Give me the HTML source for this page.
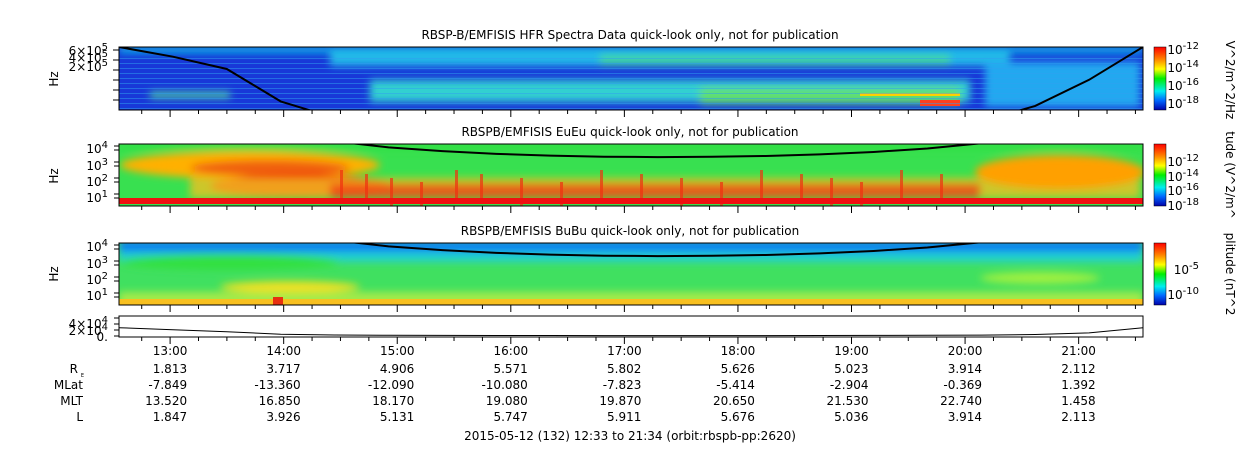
<!DOCTYPE html>
<html><head><meta charset="utf-8"><style>
body{margin:0;background:#fff;width:1250px;height:449px;overflow:hidden}
svg text{font-family:"DejaVu Sans","Liberation Sans",sans-serif;font-size:12px;fill:#000}
</style></head><body>
<svg id="c" width="1250" height="449" xmlns="http://www.w3.org/2000/svg">
<defs>
<linearGradient id="cb" x1="0" y1="0" x2="0" y2="1">
<stop offset="0" stop-color="#f00"/><stop offset="0.2" stop-color="#f80"/><stop offset="0.35" stop-color="#ff0"/><stop offset="0.5" stop-color="#0e0"/><stop offset="0.7" stop-color="#0ee"/><stop offset="0.85" stop-color="#06f"/><stop offset="1" stop-color="#00a"/></linearGradient>
<filter id="bl" x="-20%" y="-50%" width="140%" height="200%"><feGaussianBlur stdDeviation="4"/></filter>
<clipPath id="p1"><rect x="119" y="47" width="1024" height="63"/></clipPath>
<clipPath id="p2"><rect x="119" y="144" width="1024" height="62"/></clipPath>
<clipPath id="p3"><rect x="119" y="243" width="1024" height="62"/></clipPath>
</defs>
<text x="630" y="39" text-anchor="middle">RBSP-B/EMFISIS  HFR Spectra Data quick-look only, not for publication</text>
<text x="630" y="136" text-anchor="middle">RBSPB/EMFISIS  EuEu quick-look only, not for publication</text>
<text x="630" y="235" text-anchor="middle">RBSPB/EMFISIS  BuBu quick-look only, not for publication</text>

<g clip-path="url(#p1)">
<rect x="119" y="47" width="1024" height="63" fill="#1838d8"/>
<g filter="url(#bl)">
<rect x="119" y="47" width="1024" height="6" fill="#10c0e8"/>
<rect x="330" y="50" width="680" height="16" fill="#20b8e8"/>
<rect x="370" y="80" width="600" height="22" fill="#30d0d0"/>
<rect x="600" y="55" width="350" height="10" fill="#40d8a0"/>
<rect x="700" y="88" width="260" height="16" fill="#60e070"/>
<rect x="985" y="62" width="155" height="45" fill="#20a8f0"/>
<rect x="150" y="92" width="80" height="6" fill="#50d8a0"/>
</g>
<rect x="920" y="100" width="40" height="6" fill="#ff4020"/>
<rect x="860" y="93" width="100" height="3" fill="#ffd000"/>
<g id="stripes1"></g>
</g>
<rect x="119" y="47" width="1024" height="63" fill="none" stroke="#000"/>

<g clip-path="url(#p2)">
<rect x="119" y="144" width="1024" height="62" fill="#38e050"/>
<g filter="url(#bl)">
<ellipse cx="250" cy="165" rx="130" ry="14" fill="#ffb000"/>
<ellipse cx="270" cy="168" rx="80" ry="8" fill="#f06010"/>
<ellipse cx="300" cy="186" rx="90" ry="12" fill="#f02000"/>
<rect x="190" y="178" width="950" height="20" fill="#f0c020" opacity="0.8"/>
<rect x="330" y="184" width="650" height="14" fill="#f03010" opacity="0.7"/>
<ellipse cx="1060" cy="172" rx="85" ry="17" fill="#ffa000"/>
<rect x="119" y="144" width="1024" height="6" fill="#30e040"/>
</g>
<g id="streaks2"></g>
<rect x="119" y="198" width="1024" height="6" fill="#f01010"/>
</g>
<rect x="119" y="144" width="1024" height="62" fill="none" stroke="#000"/>

<g clip-path="url(#p3)">
<rect x="119" y="243" width="1024" height="62" fill="#40e060"/>
<g filter="url(#bl)">
<rect x="119" y="240" width="1024" height="14" fill="#1080f0"/>
<rect x="119" y="252" width="1024" height="10" fill="#20d0d0"/>
<ellipse cx="230" cy="262" rx="110" ry="8" fill="#30e040"/>
<ellipse cx="290" cy="287" rx="70" ry="6" fill="#f0e020"/>
<rect x="119" y="292" width="1024" height="14" fill="#d0f040" opacity="0.7"/>
<ellipse cx="1040" cy="278" rx="60" ry="6" fill="#a0f040"/>
</g>
<rect x="119" y="299" width="1024" height="6" fill="#f8c020"/>
<rect x="273" y="297" width="10" height="8" fill="#e83010"/>
</g>
<rect x="119" y="243" width="1024" height="62" fill="none" stroke="#000"/>

<rect x="119" y="316" width="1024" height="21" fill="none" stroke="#000"/>

<g id="dyn"></g>
</svg>
<script>
const NS="http://www.w3.org/2000/svg";
const hours=["13:00","14:00","15:00","16:00","17:00","18:00","19:00","20:00","21:00"];
const rE=["1.813","3.717","4.906","5.571","5.802","5.626","5.023","3.914","2.112"];
const mlat=["-7.849","-13.360","-12.090","-10.080","-7.823","-5.414","-2.904","-0.369","1.392"];
const mlt=["13.520","16.850","18.170","19.080","19.870","20.650","21.530","22.740","1.458"];
const lval=["1.847","3.926","5.131","5.747","5.911","5.676","5.036","3.914","2.113"];
// orbit radius (R_E) sampled each 30 min from 12:33 to 21:33
const radius=[1.3,1.5,1.8,2.9,3.7,4.4,4.9,5.3,5.57,5.74,5.8,5.76,5.63,5.38,5.02,4.55,3.91,3.1,2.11,1.3];
const x0=119,x1=1143,tStart=12+33/60,tEnd=21+34/60;
const X=t=>x0+(t-tStart)/(tEnd-tStart)*(x1-x0);
const svg=document.getElementById('dyn');
function mk(tag,attrs,parent){const e=document.createElementNS(NS,tag);for(const k in attrs)e.setAttribute(k,attrs[k]);(parent||svg).appendChild(e);return e;}
function txt(x,y,s,anchor,name){const t=mk('text',{x:x,y:y,'text-anchor':anchor||'middle'});t.textContent=s;
return t;}
const panels=[[47,110],[144,206],[243,305],[316,337]];
for(let t=12.75;t<=21.6;t+=0.25){
 const x=X(t);const major=Math.abs(t-Math.round(t))<1e-6;
 panels.forEach(p=>{
  const tk=mk('line',{x1:x,x2:x,y1:p[1],y2:p[1]+(major?7:4),stroke:'#000'});
  
  
 });
}
hours.forEach((h,i)=>{const x=X(13+i);
 txt(x,355,h,'middle','time-label');
 txt(x+17,373,rE[i],'end','re-value');
 txt(x+17,389,mlat[i],'end','mlat-value');
 txt(x+17,405,mlt[i],'end','mlt-value');
 txt(x+17,421,lval[i],'end','l-value');
});
txt(78,373,"R","end","re-row-label");
const sub=txt(84,377,"E","end","re-subscript");sub.style.fontSize='5px';
txt(83,389,"MLat","end","mlat-row-label");txt(83,405,"MLT","end","mlt-row-label");txt(83,421,"L","end","l-row-label");
txt(630,440,"2015-05-12 (132) 12:33 to 21:34 (orbit:rbspb-pp:2620)","middle","x-axis-title");
[[58,79],[58,176],[58,274]].forEach(p=>{const t=txt(p[0],p[1],"Hz","middle","y-axis-title");t.setAttribute('transform',`rotate(-90 ${p[0]} ${p[1]})`);});
function ylab(x,y,base,exp,name){const t=txt(x,y,base,'end',name);const s=mk('tspan',{dy:-5},t);s.style.fontSize='10px';s.textContent=exp;}
ylab(108,153,"10","4","panel2-ytick");ylab(108,170,"10","3","panel2-ytick");ylab(108,186,"10","2","panel2-ytick");ylab(108,202,"10","1","panel2-ytick");
ylab(108,251,"10","4","panel3-ytick");ylab(108,268,"10","3","panel3-ytick");ylab(108,284,"10","2","panel3-ytick");ylab(108,300,"10","1","panel3-ytick");
ylab(108,55,"6×10","5","panel1-ytick");ylab(108,62,"4×10","5","panel1-ytick");ylab(108,71,"2×10","5","panel1-ytick");
ylab(108,328,"4×10","4","panel4-ytick");ylab(108,335,"2×10","4","panel4-ytick");txt(108,341,"0.","end","panel4-ytick");
[50,60,70,80,90,100].forEach(y=>{const l=mk('line',{x1:113,x2:119,y1:y,y2:y,stroke:'#000'});});
[146,150,162,166,178,182,194,198,245,249,261,265,277,281,293,297,318,324,330,336].forEach(y=>{const l=mk('line',{x1:114,x2:119,y1:y,y2:y,stroke:'#000'});});
const st=document.getElementById('stripes1');
for(let y=58;y<110;y+=5){const r=mk('rect',{x:119,y:y,width:1024,height:1,fill:'#30a0f0',opacity:0.5},st);}
const s2=document.getElementById('streaks2');
[340,365,390,420,455,480,520,560,600,640,680,720,760,800,830,860,900,940].forEach((x,i)=>{const r=mk('rect',{x:x,y:170+(i%4)*4,width:3,height:30,fill:'#f03010',opacity:0.7},s2);});
const n=radius.length,dt=(tEnd-tStart)/(n-1);
function path(fy,clip,name,w){let d='';radius.forEach((r,i)=>{d+=(i?'L':'M')+X(tStart+i*dt).toFixed(1)+','+fy(r).toFixed(1);});
 const p=mk('path',{d:d,fill:'none',stroke:'#000','stroke-width':w});if(clip)p.setAttribute('clip-path',clip);
 }
path(r=>47+3*Math.log10(r/1.3)*52,'url(#p1)','hfr-fce-line',2);
path(r=>144+3*Math.log10(r/4)*27,'url(#p2)','eueu-fce-line',2);
path(r=>243+3*Math.log10(r/4)*27,'url(#p3)','bubu-fce-line',2);
path(r=>336-14/(r*r),null,'radius-line',1);
[[47,110],[144,206],[243,305]].forEach(p=>{const r=mk('rect',{x:1154,y:p[0],width:12,height:p[1]-p[0],fill:'url(#cb)',stroke:'#000','stroke-width':0.5});});
ylab(1199,54,"10","-12","cbar1-label");ylab(1199,72,"10","-14","cbar1-label");ylab(1199,90,"10","-16","cbar1-label");ylab(1199,108,"10","-18","cbar1-label");
ylab(1199,166,"10","-12","cbar2-label");ylab(1199,181,"10","-14","cbar2-label");ylab(1199,195,"10","-16","cbar2-label");ylab(1199,210,"10","-18","cbar2-label");
ylab(1199,274,"10","-5","cbar3-label");ylab(1199,299,"10","-10","cbar3-label");
[["V^2/m^2/Hz",1226,80],["tude (V^2/m^",1226,175],["plitude (nT^2",1226,274]].forEach(a=>{const t=txt(a[1],a[2],a[0],'middle','colorbar-title');t.setAttribute('transform',`rotate(90 ${a[1]} ${a[2]})`);});
</script>
</body></html>
